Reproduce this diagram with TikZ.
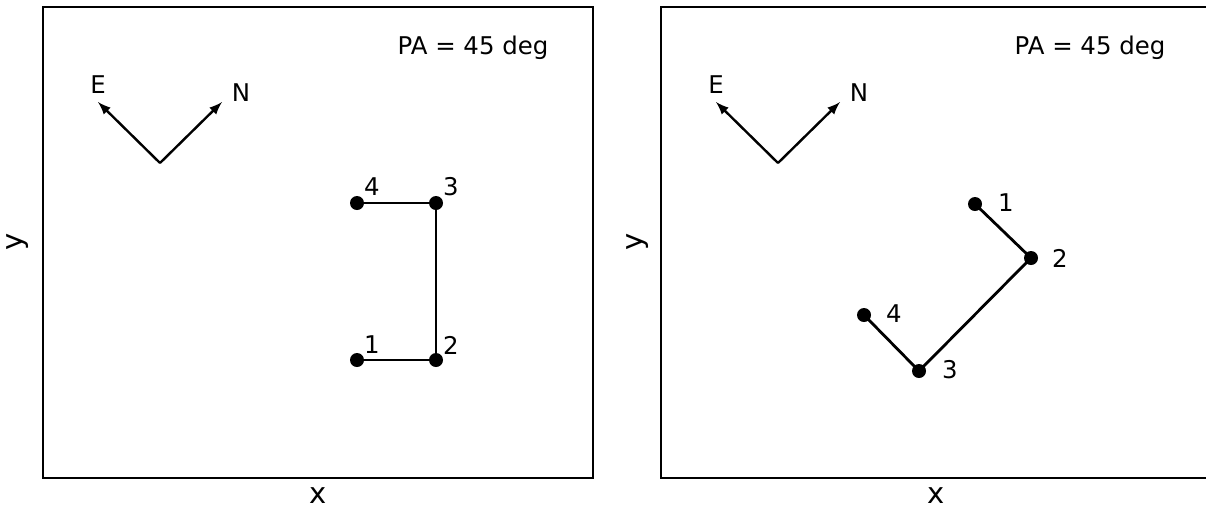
\documentclass[tikz,border=0pt]{standalone}
\usepackage{fontspec}
\setmainfont{DejaVu Sans}
\usetikzlibrary{arrows}

\begin{document}
\begin{tikzpicture}[
            x = 0.5pt, y = -0.5pt, % one unit per pixel
            > = latex, % arrow head style
            font = \fontsize{12.2}{14}\selectfont,
            axis/.style = {font=\fontsize{14.5}{16}\selectfont},
            frame/.style = {line width=0.7pt},
            dot/.style = {circle, fill, inner sep=0pt, minimum size=7pt},
            seg/.style = {line width=1.4pt},
            dir/.style = {->, line width=1.2pt}
        ]

	\useasboundingbox (0,0) rectangle (1206,510);

	% left panel
	\draw[frame] (43,7) rectangle (593,478);
	\node[axis] (xl) at (318,496) {x};
	\node[axis,rotate=90] (yl) at (18,242) {y};
	\node[anchor=base] (pal) at (473,54) {PA = 45 deg};

	\coordinate (ol) at (160,163);
	\coordinate (el) at (98,102);
	\coordinate (nl) at (222,102);
	\draw[dir] (ol) -- (el);
	\draw[dir] (ol) -- (nl);
	\node (elab) at (98,85) {E};
	\node (nlab) at (241,93) {N};

	\node[dot] (l1) at (357,360) {};
	\node[dot] (l2) at (436,360) {};
	\node[dot] (l3) at (436,203) {};
	\node[dot] (l4) at (357,203) {};
	\draw[seg] (l1.center) -- (l2.center) -- (l3.center) -- (l4.center);
	\node (t1) at (372,345) {1};
	\node (t2) at (451,345) {2};
	\node (t3) at (451,187) {3};
	\node (t4) at (372,187) {4};

	% right panel
	\draw[frame] (1206,7) -- (661,7) -- (661,478) -- (1206,478);
	\node[axis] (xr) at (936,496) {x};
	\node[axis,rotate=90] (yr) at (638,242) {y};
	\node[anchor=base] (par) at (1090,54) {PA = 45 deg};

	\coordinate (or) at (778,163);
	\coordinate (er) at (716,102);
	\coordinate (nr) at (840,102);
	\draw[dir] (or) -- (er);
	\draw[dir] (or) -- (nr);
	\node (erlab) at (716,85) {E};
	\node (nrlab) at (859,93) {N};

	\node[dot] (r1) at (975,204) {};
	\node[dot] (r2) at (1031,258) {};
	\node[dot] (r3) at (919,371) {};
	\node[dot] (r4) at (864,315) {};
	\draw[seg] (r1.center) -- (r2.center) -- (r3.center) -- (r4.center);
	\node (s1) at (1006,203) {1};
	\node (s2) at (1060,258) {2};
	\node (s3) at (950,370) {3};
	\node (s4) at (894,314) {4};

\end{tikzpicture}
\end{document}
